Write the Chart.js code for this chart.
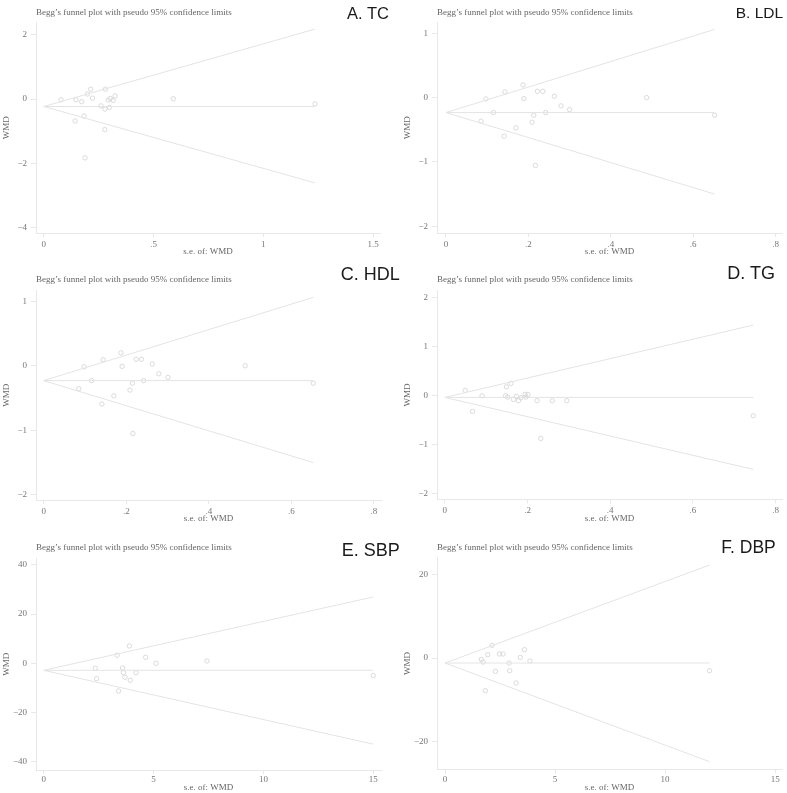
<!DOCTYPE html>
<html>
<head>
<meta charset="utf-8">
<script src="https://cdn.jsdelivr.net/npm/chart.js@4.4.1/dist/chart.umd.min.js"></script>
<style>
  body { margin: 0; background: #fff; }
  #wrap { position: relative; width: 787px; height: 793px; overflow: hidden; }
  canvas { position: absolute; }
  .ttl { position: absolute; font: 9px "Liberation Serif", "DejaVu Serif", serif; color: #666; line-height: 9px; white-space: nowrap; }
  .lbl { position: absolute; font-family: "Liberation Sans", Arial, sans-serif; color: #1a1a1a; white-space: nowrap; }
</style>
</head>
<body>
<div id="wrap"></div>
<script>
// A. TC
const tcSe = [0.079, 0.147, 0.173, 0.143, 0.184, 0.188, 0.199, 0.214, 0.222, 0.261, 0.281, 0.279, 0.278, 0.294, 0.303, 0.299, 0.316, 0.325, 0.590, 1.235];
const tcWmd = [-0.02, -0.02, -0.08, -0.68, -0.53, -1.83, 0.16, 0.31, 0.03, -0.21, 0.31, -0.31, -0.95, -0.03, 0.02, -0.26, -0.04, 0.10, 0.01, -0.15];
const tcLineSe = [0, 1.235];
const tcPooled = [-0.23, -0.23];
const tcUpper = [-0.23, 2.18];
const tcLower = [-0.23, -2.61];

// B. LDL
const ldlSe = [0.085, 0.097, 0.115, 0.143, 0.141, 0.170, 0.187, 0.189, 0.209, 0.213, 0.217, 0.222, 0.235, 0.242, 0.263, 0.279, 0.300, 0.487, 0.652];
const ldlWmd = [-0.367, -0.021, -0.233, 0.088, -0.600, -0.471, 0.197, -0.016, -0.383, -0.274, -1.055, 0.098, 0.098, -0.233, 0.021, -0.129, -0.186, 0.0, -0.274];
const ldlLineSe = [0, 0.652];
const ldlPooled = [-0.233, -0.233];
const ldlUpper = [-0.233, 1.06];
const ldlLower = [-0.233, -1.50];

// C. HDL
const hdlSe = [0.085, 0.098, 0.116, 0.144, 0.141, 0.170, 0.187, 0.190, 0.209, 0.215, 0.216, 0.224, 0.237, 0.242, 0.263, 0.279, 0.301, 0.488, 0.653];
const hdlWmd = [-0.357, -0.016, -0.230, 0.093, -0.594, -0.465, 0.200, -0.010, -0.377, -0.270, -1.050, 0.100, 0.100, -0.230, 0.026, -0.124, -0.180, 0.0, -0.270];
const hdlLineSe = [0, 0.653];
const hdlPooled = [-0.23, -0.23];
const hdlUpper = [-0.23, 1.06];
const hdlLower = [-0.23, -1.50];

// D. TG
const tgSe = [0.049, 0.067, 0.090, 0.147, 0.149, 0.152, 0.160, 0.166, 0.173, 0.178, 0.184, 0.194, 0.196, 0.201, 0.223, 0.232, 0.260, 0.295, 0.746];
const tgWmd = [0.102, -0.327, -0.007, -0.007, 0.177, -0.034, 0.245, -0.082, -0.020, -0.109, -0.048, 0.020, -0.034, 0.020, -0.109, -0.878, -0.109, -0.109, -0.415];
const tgLineSe = [0, 0.746];
const tgPooled = [-0.041, -0.041];
const tgUpper = [-0.041, 1.435];
const tgLower = [-0.041, -1.51];

// E. SBP
const sbpSe = [2.35, 2.41, 3.34, 3.41, 3.59, 3.63, 3.70, 3.90, 3.94, 4.20, 4.64, 5.11, 7.43, 15.0];
const sbpWmd = [-2.03, -6.24, 3.25, -11.25, -1.90, -3.80, -5.69, 7.05, -6.92, -3.80, 2.44, 0, 0.95, -5.02];
const sbpLineSe = [0, 15.0];
const sbpPooled = [-2.85, -2.85];
const sbpUpper = [-2.85, 26.98];
const sbpLower = [-2.85, -32.9];

// F. DBP
const dbpSe = [1.65, 1.73, 1.83, 1.94, 2.14, 2.29, 2.47, 2.64, 2.91, 2.94, 3.23, 3.42, 3.61, 3.86, 12.02];
const dbpWmd = [-0.32, -0.96, -7.81, 0.80, 3.03, -3.19, 0.96, 0.96, -1.20, -3.03, -5.98, 0.16, 1.99, -0.72, -3.03];
const dbpLineSe = [0, 12.02];
const dbpPooled = [-1.20, -1.20];
const dbpUpper = [-1.20, 22.23];
const dbpLower = [-1.20, -24.78];

// tick labels
const xTicksTc = [0, 0.5, 1, 1.5];
const yTicksTc = [-4, -2, 0, 2];
const xTicksLipid = [0, 0.2, 0.4, 0.6, 0.8];
const yTicksLdl = [-2, -1, 0, 1];
const yTicksTg = [-2, -1, 0, 1, 2];
const xTicksBp = [0, 5, 10, 15];
const yTicksSbp = [-40, -20, 0, 20, 40];
const yTicksDbp = [-20, 0, 20];

const titleText = "Begg\u2019s funnel plot with pseudo 95% confidence limits";
const lightLine = '#e4e4e4';
const axisColor = '#e8e8e8';
const tickText = '#777';
const serif = '"Liberation Serif", "DejaVu Serif", serif';

function stataLabel(v) {
    let s = String(Math.abs(v));
    if (s.indexOf('0.') === 0) s = s.slice(1);
    return (v < 0 ? '\u2212' : '') + s;
}

function pts(xs, ys) {
    return xs.map((x, i) => ({x: x, y: ys[i]}));
}

function makePanel(p) {
    let wrap = document.getElementById('wrap');
    let cv = document.createElement('canvas');
    cv.width = p.w;
    cv.height = p.h;
    cv.style.left = p.left + 'px';
    cv.style.top = p.top + 'px';
    cv.style.width = p.w + 'px';
    cv.style.height = p.h + 'px';
    wrap.appendChild(cv);

    let t = document.createElement('div');
    t.className = 'ttl';
    t.textContent = titleText;
    t.style.left = (p.left + 36) + 'px';
    t.style.top = (p.titleY - 4.5) + 'px';
    wrap.appendChild(t);

    let l = document.createElement('div');
    l.className = 'lbl';
    l.textContent = p.label;
    l.style.fontSize = p.labelSize + 'px';
    l.style.lineHeight = p.labelSize + 'px';
    l.style.left = p.labelX + 'px';
    l.style.top = (p.labelBase - 0.8465 * p.labelSize) + 'px';
    wrap.appendChild(l);

    let lineDs = (ys) => ({
        type: 'line',
        data: pts(p.lineSe, ys),
        borderColor: lightLine,
        borderWidth: 1,
        pointRadius: 0,
        fill: false
    });

    new Chart(cv.getContext('2d'), {
        type: 'scatter',
        data: {
            datasets: [
                lineDs(p.upper),
                lineDs(p.lower),
                lineDs(p.pooled),
                {
                    data: pts(p.se, p.wmd),
                    pointRadius: 2.2,
                    pointBorderWidth: 0.8,
                    pointBorderColor: '#d2d2d2',
                    pointBackgroundColor: 'rgba(255,255,255,0)'
                }
            ]
        },
        options: {
            responsive: false,
            animation: false,
            events: [],
            layout: {padding: {top: p.padTop, right: p.padRight, left: 0, bottom: 0}},
            plugins: {legend: {display: false}, tooltip: {enabled: false}},
            scales: {
                x: {
                    type: 'linear',
                    min: p.xMin,
                    max: p.xMax,
                    afterBuildTicks: (ax) => { ax.ticks = p.xTicks.map(v => ({value: v})); },
                    afterFit: (ax) => { ax.height = p.xAxisH; },
                    grid: {drawOnChartArea: false, drawTicks: true, tickLength: 4, tickColor: axisColor},
                    border: {color: axisColor, width: 1},
                    ticks: {
                        color: tickText,
                        font: {family: serif, size: 9},
                        padding: p.xTickPad,
                        maxRotation: 0,
                        autoSkip: false,
                        callback: (v) => stataLabel(v)
                    },
                    title: {
                        display: true,
                        text: 's.e. of: WMD',
                        color: '#666',
                        font: {family: serif, size: 9},
                        padding: {top: 0, bottom: p.xTitlePad}
                    }
                },
                y: {
                    type: 'linear',
                    min: p.yMin,
                    max: p.yMax,
                    afterBuildTicks: (ax) => { ax.ticks = p.yTicks.map(v => ({value: v})); },
                    afterFit: (ax) => { ax.width = 36; },
                    grid: {drawOnChartArea: false, drawTicks: true, tickLength: 5, tickColor: axisColor},
                    border: {color: axisColor, width: 1},
                    ticks: {
                        color: tickText,
                        font: {family: serif, size: 9},
                        padding: 4,
                        autoSkip: false,
                        callback: (v) => stataLabel(v)
                    },
                    title: {
                        display: true,
                        text: 'WMD',
                        color: '#666',
                        font: {family: serif, size: 9},
                        padding: {top: 1, bottom: 0}
                    }
                }
            }
        }
    });
}

makePanel({left: 0, top: 0, w: 393, h: 260, padTop: 22.7, padRight: 13, xAxisH: 27, xTickPad: 2.5, xTitlePad: 2.5,
    se: tcSe, wmd: tcWmd, lineSe: tcLineSe, pooled: tcPooled, upper: tcUpper, lower: tcLower,
    xMin: -0.035, xMax: 1.531, yMin: -4.17, yMax: 2.38, xTicks: xTicksTc, yTicks: yTicksTc,
    titleY: 12, label: 'A. TC', labelSize: 16.5, labelX: 347, labelBase: 18.5});

makePanel({left: 401, top: 0, w: 386, h: 260, padTop: 22.7, padRight: 4, xAxisH: 27, xTickPad: 2.5, xTitlePad: 2.5,
    se: ldlSe, wmd: ldlWmd, lineSe: ldlLineSe, pooled: ldlPooled, upper: ldlUpper, lower: ldlLower,
    xMin: -0.0218, xMax: 0.816, yMin: -2.105, yMax: 1.164, xTicks: xTicksLipid, yTicks: yTicksLdl,
    titleY: 12.7, label: 'B. LDL', labelSize: 15.5, labelX: 735.7, labelBase: 18.3});

makePanel({left: 0, top: 260, w: 393, h: 265, padTop: 30.7, padRight: 12, xAxisH: 25, xTickPad: 2, xTitlePad: 1.3,
    se: hdlSe, wmd: hdlWmd, lineSe: hdlLineSe, pooled: hdlPooled, upper: hdlUpper, lower: hdlLower,
    xMin: -0.0186, xMax: 0.817, yMin: -2.08, yMax: 1.163, xTicks: xTicksLipid, yTicks: yTicksLdl,
    titleY: 279, label: 'C. HDL', labelSize: 18, labelX: 340.7, labelBase: 280.5});

makePanel({left: 401, top: 260, w: 386, h: 265, padTop: 30.7, padRight: 4.7, xAxisH: 25.7, xTickPad: 2, xTitlePad: 1.3,
    se: tgSe, wmd: tgWmd, lineSe: tgLineSe, pooled: tgPooled, upper: tgUpper, lower: tgLower,
    xMin: -0.019, xMax: 0.816, yMin: -2.12, yMax: 2.136, xTicks: xTicksLipid, yTicks: yTicksTg,
    titleY: 279, label: 'D. TG', labelSize: 18, labelX: 727.3, labelBase: 279.5});

makePanel({left: 0, top: 525, w: 393, h: 268, padTop: 33.3, padRight: 12, xAxisH: 23, xTickPad: 0.5, xTitlePad: 0.3,
    se: sbpSe, wmd: sbpWmd, lineSe: sbpLineSe, pooled: sbpPooled, upper: sbpUpper, lower: sbpLower,
    xMin: -0.349, xMax: 15.35, yMin: -43.4, yMax: 42.7, xTicks: xTicksBp, yTicks: yTicksSbp,
    titleY: 547.3, label: 'E. SBP', labelSize: 18, labelX: 341.7, labelBase: 556.7});

makePanel({left: 401, top: 525, w: 386, h: 268, padTop: 32.7, padRight: 4.7, xAxisH: 23.7, xTickPad: 0.5, xTitlePad: 0.3,
    se: dbpSe, wmd: dbpWmd, lineSe: dbpLineSe, pooled: dbpPooled, upper: dbpUpper, lower: dbpLower,
    xMin: -0.364, xMax: 15.32, yMin: -26.6, yMax: 23.98, xTicks: xTicksBp, yTicks: yTicksDbp,
    titleY: 547.3, label: 'F. DBP', labelSize: 17.5, labelX: 721.3, labelBase: 554.3});
</script>
</body>
</html>
